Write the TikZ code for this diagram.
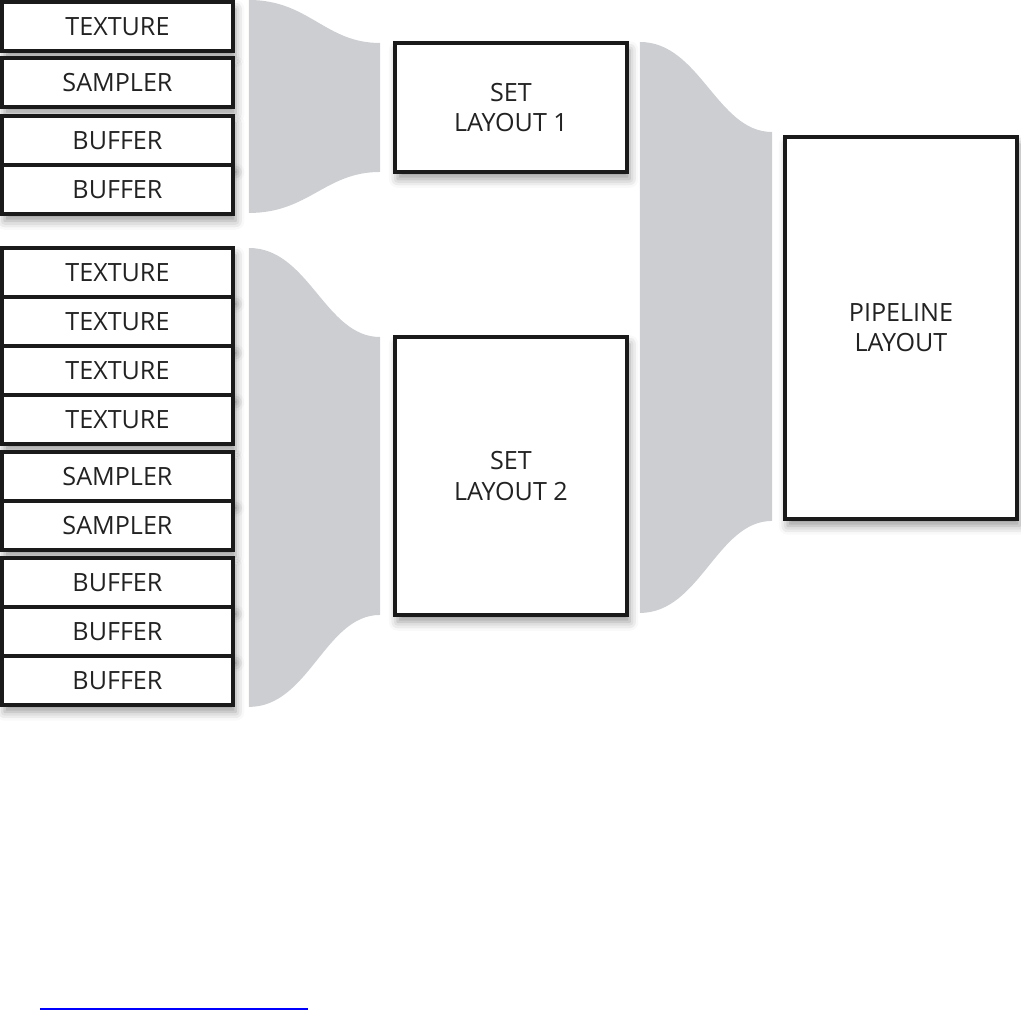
\documentclass[tikz,border=0pt]{standalone}
\usepackage{fontspec}
\setmainfont{Open Sans}
\usepackage{xcolor}
\definecolor{ink}{HTML}{1A1A1A}
\definecolor{label}{HTML}{222222}
\definecolor{band}{HTML}{CDCED1}
\definecolor{link}{HTML}{0000FF}
\usepackage{tikz}
\usetikzlibrary{positioning,calc,shadows.blur}
\tikzset{
  every picture/.style={font=\fontsize{14.3}{17.2}\selectfont, line width=1.9pt},
  item/.style={draw=ink, fill=white, text=label, outer sep=0pt, inner sep=0pt, align=center,
    minimum width=4.62cm, minimum height=0.98cm,
    blur shadow={shadow xshift=1.5pt, shadow yshift=-4pt, shadow blur radius=5pt, shadow opacity=40}},
  layout/.style={item, line width=2.3pt, minimum width=4.64cm, minimum height=#1},
  layout/.default=2.58cm,
  band/.style={fill=band, draw=none},
}
\begin{document}
\begin{tikzpicture}[x=0.02cm, y=-0.02cm, node distance=0cm]
  \useasboundingbox (0,0) rectangle (1021,1010);
  % first set
  \node[item, anchor=north west] (tA) at (2,2) {TEXTURE};
  \node[item, below=0.14cm of tA] (sA) {SAMPLER};
  \node[item, below=0.18cm of sA] (bA1) {BUFFER};
  \node[item, below=of bA1] (bA2) {BUFFER};
  % second set
  \node[item, anchor=north west] (tB1) at (2,248) {TEXTURE};
  \node[item, below=of tB1] (tB2) {TEXTURE};
  \node[item, below=of tB2] (tB3) {TEXTURE};
  \node[item, below=of tB3] (tB4) {TEXTURE};
  \node[item, below=0.16cm of tB4] (sB1) {SAMPLER};
  \node[item, below=of sB1] (sB2) {SAMPLER};
  \node[item, below=0.16cm of sB2] (bB1) {BUFFER};
  \node[item, below=of bB1] (bB2) {BUFFER};
  \node[item, below=of bB2] (bB3) {BUFFER};
  % layouts
  \node[layout, anchor=north west] (setA) at (395,43) {SET\\LAYOUT 1};
  \node[layout=5.56cm, anchor=north west] (setB) at (395,337) {SET\\LAYOUT 2};
  \node[layout=7.64cm, anchor=north west] (pipe) at (785,137) {PIPELINE\\LAYOUT};
  % bands
  \fill[band] ($(tA.north east)+(16,-2)$) .. controls +(60,0) and +(-55,0) .. ($(setA.north west)+(-15,0)$)
    -- ($(setA.south west)+(-15,0)$) .. controls +(-55,0) and +(60,0) .. ($(bA2.south east)+(16,-1)$) -- cycle;
  \fill[band] ($(tB1.north east)+(16,0)$) .. controls +(60,0) and +(-55,0) .. ($(setB.north west)+(-15,0)$)
    -- ($(setB.south west)+(-15,0)$) .. controls +(-55,0) and +(60,0) .. ($(bB3.south east)+(16,2)$) -- cycle;
  \fill[band] ($(setA.north east)+(13,-1)$) .. controls +(60,0) and +(-55,0) .. ($(pipe.north west)+(-13,-5)$)
    -- ($(pipe.south west)+(-13,2)$) .. controls +(-55,0) and +(60,0) .. ($(setB.south east)+(13,-2)$) -- cycle;
  \draw[link, line width=0.04cm] (40,1009) -- (308,1009);
\end{tikzpicture}
\end{document}
